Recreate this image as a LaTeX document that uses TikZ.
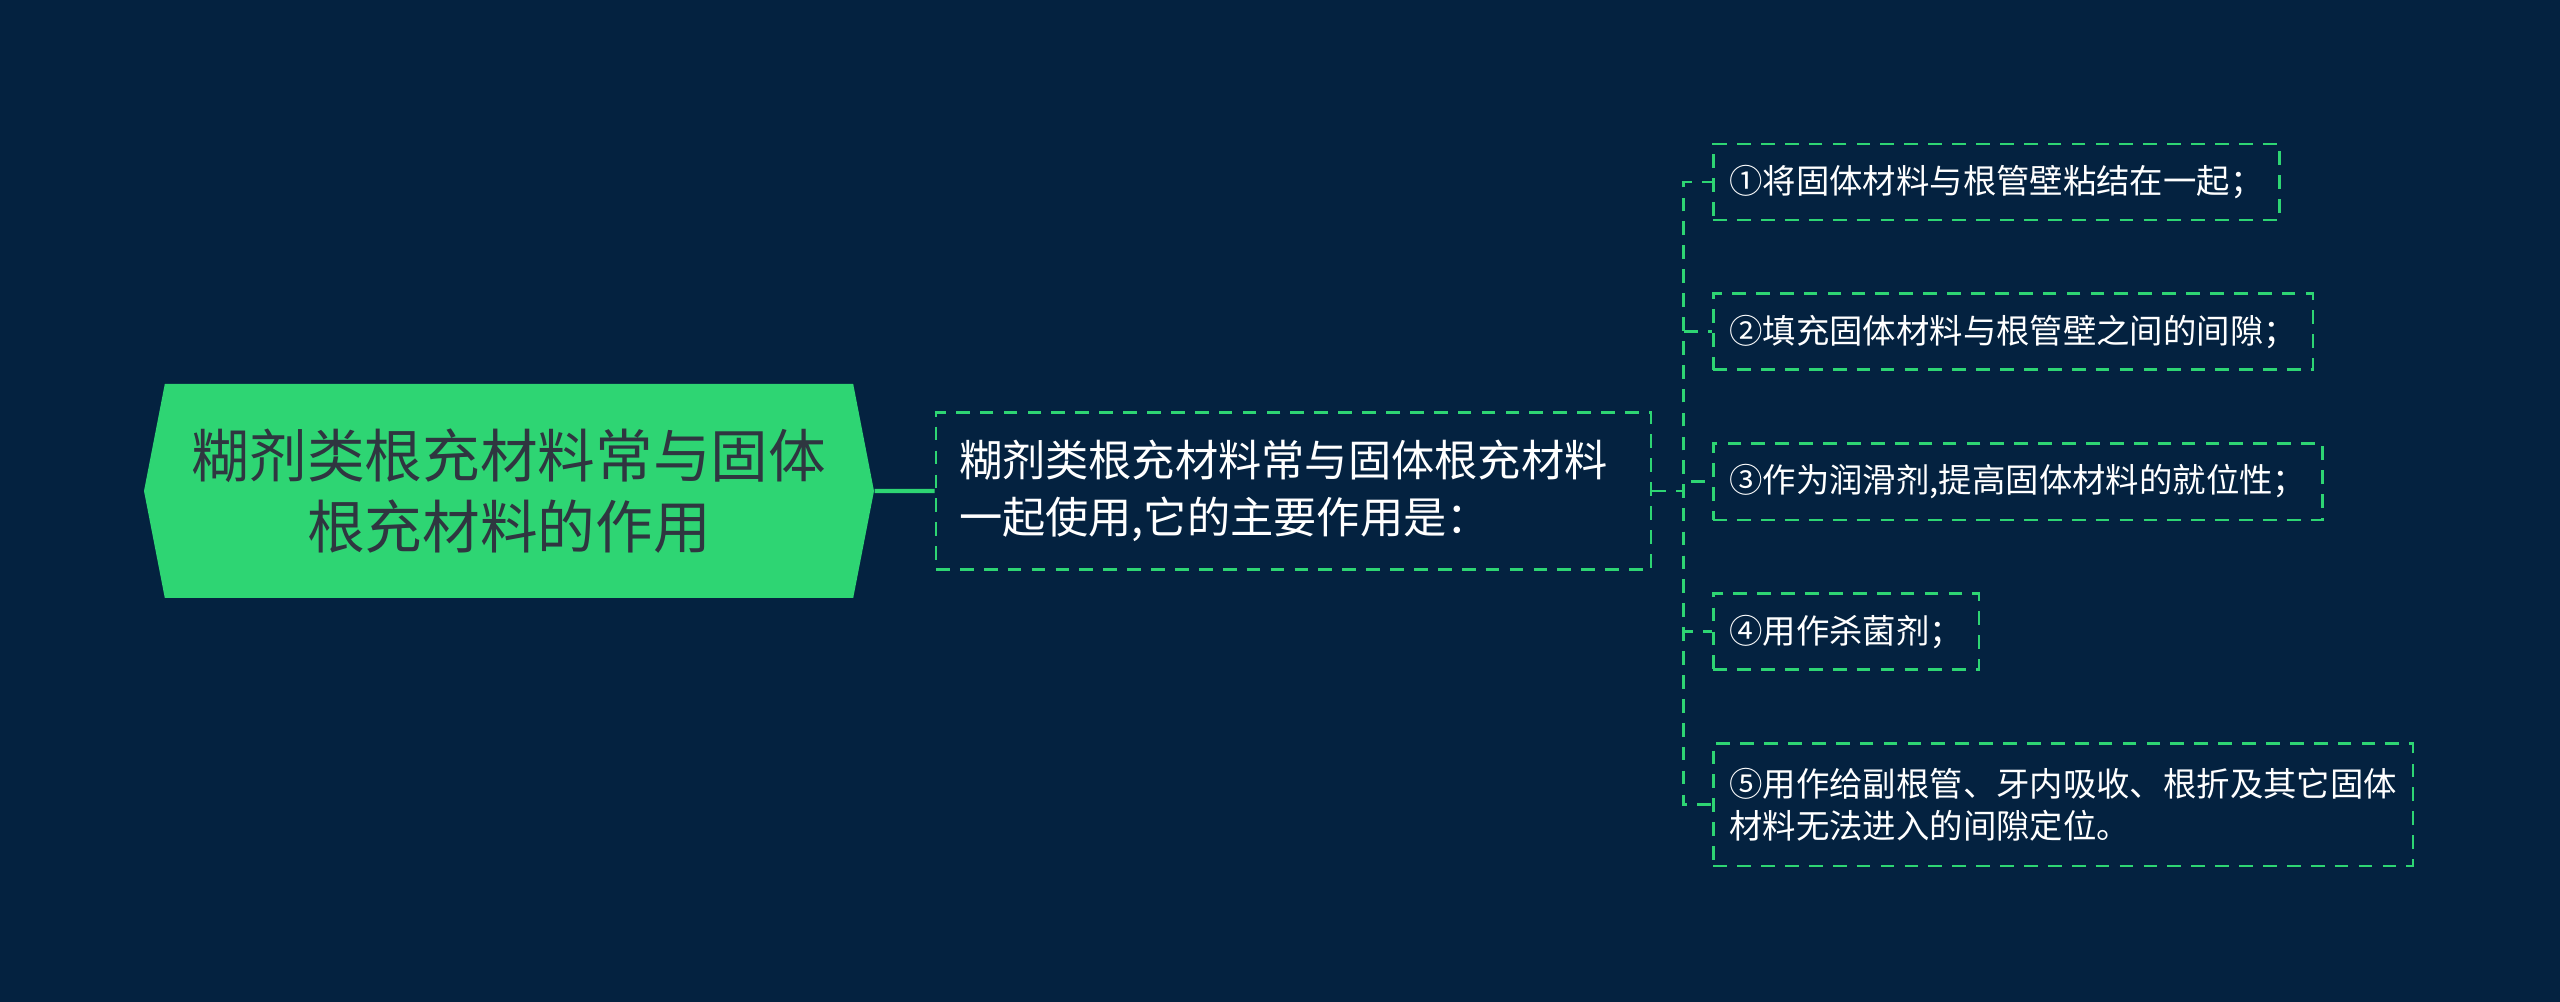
\documentclass[tikz,border=0pt]{standalone}
\usepackage{fontspec}
\setmainfont{Noto Sans CJK SC}
\usetikzlibrary{positioning,shapes.symbols}
\definecolor{bgnavy}{HTML}{042240}
\definecolor{leafgreen}{HTML}{2ED573}
\definecolor{roottext}{HTML}{2F3640}

\begin{document}
\begin{tikzpicture}[
rootnode/.style={signal, signal to=west and east, signal pointer angle=158,
  fill=leafgreen, text=roottext, align=center, inner sep=0pt,
  minimum width=7.3cm, minimum height=2.14cm,
  font=\fontsize{16.4}{20.4}\selectfont},
topicnode/.style={rectangle, draw=leafgreen, line width=0.75pt,
  dash pattern=on 3.9pt off 2.9pt, text=white, align=left,
  text width=6.69cm, inner xsep=0.23cm, minimum height=1.57cm,
  font=\fontsize{12.3}{16.2}\selectfont},
leafnode/.style={rectangle, draw=leafgreen, line width=0.75pt,
  dash pattern=on 3.9pt off 2.9pt, text=white, align=left,
  inner xsep=0.16cm, inner ysep=6pt, minimum height=0.76cm,
  font=\fontsize{9.5}{12.1}\selectfont},
solidlink/.style={draw=leafgreen, line width=1.2pt},
dashlink/.style={draw=leafgreen, line width=0.75pt, dash pattern=on 3.9pt off 2.9pt}]
% Background
\fill[bgnavy] (0,0) rectangle (25.6,10.02);
% Nodes
\node[rootnode] (root) at (5.09,5.11) {糊剂类根充材料常与固体\\根充材料的作用};
\node[topicnode] (mid) [right=0.6cm of root] {糊剂类根充材料常与固体根充材料\\一起使用,它的主要作用是：};
\coordinate (bus) at ([xshift=0.31cm]mid.east);
\node[leafnode, anchor=west] (c1) at (17.12,8.20) {①将固体材料与根管壁粘结在一起；};
\node[leafnode] (c2) [below=0.71cm of c1.south west, anchor=north west] {②填充固体材料与根管壁之间的间隙；};
\node[leafnode] (c3) [below=0.71cm of c2.south west, anchor=north west] {③作为润滑剂,提高固体材料的就位性；};
\node[leafnode] (c4) [below=0.71cm of c3.south west, anchor=north west] {④用作杀菌剂；};
\node[leafnode, inner ysep=7pt] (c5) [below=0.71cm of c4.south west, anchor=north west] {⑤用作给副根管、牙内吸收、根折及其它固体\\材料无法进入的间隙定位。};
% Lines
\draw[solidlink] (root) -- (mid);
\foreach \i in {1,...,5}
  \draw[dashlink] (mid.east) -- (bus) |- (c\i.west);
\end{tikzpicture}
\end{document}
